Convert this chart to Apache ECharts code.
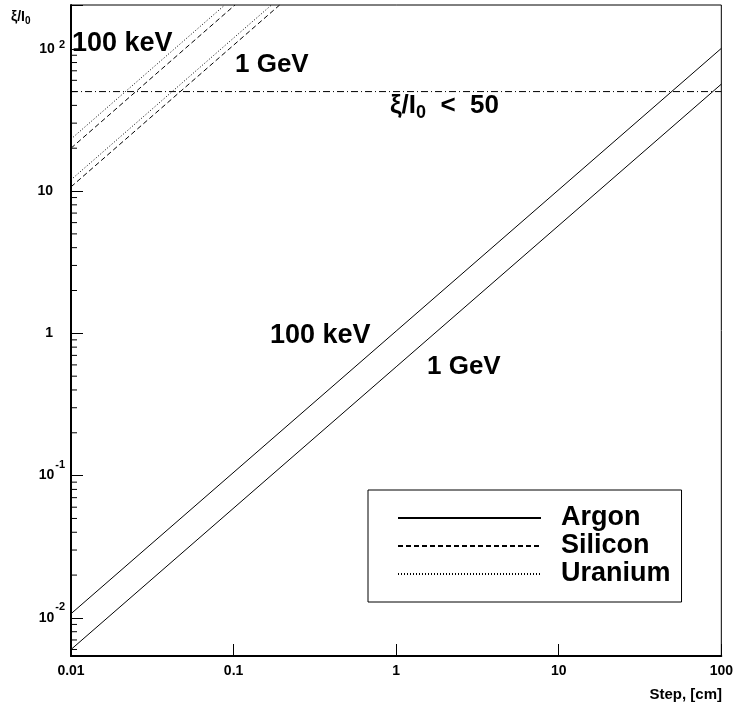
<!DOCTYPE html>
<html><head><meta charset="utf-8">
<script src="https://cdn.jsdelivr.net/npm/echarts@6/dist/echarts.min.js"></script>
<style>html,body{margin:0;padding:0;background:#fff}#c{width:736px;height:709px}</style>
</head><body><div id="c"></div><script>
// ---- data ----
const stepRange = [0.01, 100];           // x axis range (cm)
const xiRange = [0.0054, 203];           // y axis range
const argon100keV = [[0.01, 0.0107], [100, 100.6]];
const argon1GeV = [[0.01, 0.0060], [100, 56.4]];
const silicon100keV = [[0.01, 20.0], [0.102, 203]];
const silicon1GeV = [[0.01, 10.7], [0.192, 203]];
const uranium100keV = [[0.01, 23.2], [0.0883, 203]];
const uranium1GeV = [[0.01, 12.0], [0.171, 203]];
const xiLimit = [[0.01, 50], [100, 50]];
const yMinorTicks = [0.006,0.007,0.008,0.009,0.02,0.03,0.04,0.05,0.06,0.07,0.08,0.09,
  0.2,0.3,0.4,0.5,0.6,0.7,0.8,0.9,2,3,4,5,6,7,8,9,20,30,40,50,60,70,80,90];
const legendNames = ['Argon', 'Silicon', 'Uranium'];

const FONT = '"Liberation Sans", Arial, Helvetica, sans-serif';
const chart = echarts.init(document.getElementById('c'), null, {renderer: 'canvas'});

function lineSeries(name, data, type) {
  return {type: 'line', name: name, data: data, symbol: 'none', clip: true, silent: true,
    lineStyle: {color: '#000', width: 1, type: type}, itemStyle: {color: '#000'}};
}
const isPow10 = v => Math.abs(Math.log10(v) - Math.round(Math.log10(v))) < 1e-6;

const option = {
  animation: false,
  backgroundColor: '#fff',
  textStyle: {fontFamily: FONT},
  grid: {left: 71, right: 14, top: 5, bottom: 53, show: true, borderColor: '#000', borderWidth: 1},
  xAxis: {
    type: 'log', logBase: 10, min: stepRange[0], max: stepRange[1],
    axisLine: {lineStyle: {color: '#000', width: 2}},
    axisTick: {inside: true, length: 12, lineStyle: {color: '#000', width: 1}},
    splitLine: {show: false},
    axisLabel: {margin: 8, color: '#000', fontSize: 14, fontWeight: 'bold', fontFamily: FONT,
      formatter: v => isPow10(v) ? String(+v.toPrecision(3)) : ''}
  },
  yAxis: {
    type: 'log', logBase: 10, min: xiRange[0], max: xiRange[1],
    axisLine: {lineStyle: {color: '#000', width: 2}},
    axisTick: {inside: true, length: 12, lineStyle: {color: '#000', width: 1}},
    splitLine: {show: false},
    axisLabel: {margin: 6, color: '#000', fontSize: 14, fontWeight: 'bold', fontFamily: FONT,
      formatter: v => {
        if (!isPow10(v)) return '';
        const e = Math.round(Math.log10(v));
        if (e === 0) return '{n|1}';
        if (e === 1) return '{n|10}';
        if (e === 2) return '{b|10}{t| 2}';
        return '{b|10}{s|' + String(e) + '}';
      },
      rich: {
        n: {fontSize: 14, fontWeight: 'bold', fontFamily: FONT, color: '#000', padding: [0, 12, 0, 0]},
        b: {fontSize: 14, fontWeight: 'bold', fontFamily: FONT, color: '#000'},
        s: {fontSize: 11, fontWeight: 'bold', fontFamily: FONT, color: '#000', padding: [0, 0, 22, 1]},
        t: {fontSize: 11, fontWeight: 'bold', fontFamily: FONT, color: '#000', padding: [0, 0, 7, 1]}
      }
    }
  },
  legend: {
    data: legendNames, orient: 'vertical', left: 368, top: 490,
    itemWidth: 143, itemHeight: 14, itemGap: 0, selectedMode: false,
    itemStyle: {opacity: 0, borderWidth: 0},
    padding: [14, 11, 14, 29], borderColor: '#000', borderWidth: 1, backgroundColor: '#fff',
    textStyle: {fontSize: 27, fontWeight: 'bold', fontFamily: FONT, color: '#000', lineHeight: 28, padding: [0, 0, 0, 15]}
  },
  series: [
    lineSeries('Argon', argon100keV, 'solid'),
    lineSeries('Argon', argon1GeV, 'solid'),
    lineSeries('Silicon', silicon100keV, [5, 3]),
    lineSeries('Silicon', silicon1GeV, [5, 3]),
    lineSeries('Uranium', uranium100keV, [1, 2]),
    lineSeries('Uranium', uranium1GeV, [1, 2]),
    lineSeries('limit', xiLimit, [7, 3, 1, 3]),
    {
      type: 'custom', name: 'minorTicks', silent: true, clip: false,
      data: yMinorTicks.map(v => [stepRange[0], v]),
      renderItem: (params, api) => {
        const p = api.coord([api.value(0), api.value(1)]);
        return {type: 'line', shape: {x1: p[0], y1: p[1], x2: p[0] + 6, y2: p[1]},
          style: {stroke: '#000', lineWidth: 1}};
      }
    }
  ],
  graphic: [
    {type: 'text', x: 11, y: 17, style: {text: '{a|ξ/I}{u|0}', fill: '#000', font: 'bold 14px ' + FONT,
      textVerticalAlign: 'middle', verticalAlign: 'middle',
      rich: {a: {fontSize: 14, fontWeight: 'bold', fontFamily: FONT}, u: {fontSize: 10, fontWeight: 'bold', fontFamily: FONT, padding: [8, 0, 0, 0]}}}},
    {type: 'text', x: 722, y: 695, style: {text: 'Step, [cm]', fill: '#000', font: 'bold 15px ' + FONT,
      textAlign: 'right', align: 'right', textVerticalAlign: 'middle', verticalAlign: 'middle'}},
    {type: 'text', x: 72, y: 44, style: {text: '100 keV', fill: '#000', font: 'bold 27px ' + FONT, textVerticalAlign: 'middle', verticalAlign: 'middle'}},
    {type: 'text', x: 235, y: 65, style: {text: '1 GeV', fill: '#000', font: 'bold 26px ' + FONT, textVerticalAlign: 'middle', verticalAlign: 'middle'}},
    {type: 'text', x: 390, y: 106, style: {text: '{a|ξ/I}{u|0}{a|  <  50}', fill: '#000', font: 'bold 26px ' + FONT,
      textVerticalAlign: 'middle', verticalAlign: 'middle',
      rich: {a: {fontSize: 26, fontWeight: 'bold', fontFamily: FONT}, u: {fontSize: 18, fontWeight: 'bold', fontFamily: FONT, padding: [14, 0, 0, 0]}}}},
    {type: 'text', x: 270, y: 336, style: {text: '100 keV', fill: '#000', font: 'bold 27px ' + FONT, textVerticalAlign: 'middle', verticalAlign: 'middle'}},
    {type: 'text', x: 427, y: 367, style: {text: '1 GeV', fill: '#000', font: 'bold 26px ' + FONT, textVerticalAlign: 'middle', verticalAlign: 'middle'}}
  ]
};
chart.setOption(option);
</script></body></html>
